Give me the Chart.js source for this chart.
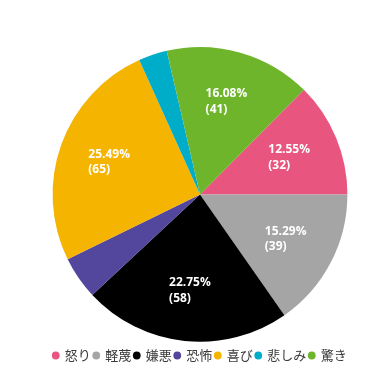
<!DOCTYPE html>
<html>
<head>
<meta charset="utf-8">
<script src="https://cdn.jsdelivr.net/npm/chart.js@4.4.1/dist/chart.umd.min.js"></script>
<style>
  html, body { margin: 0; padding: 0; background: #fff; }
  #wrap { position: relative; width: 382px; height: 378px; }
</style>
</head>
<body>
<div id="wrap"><canvas id="emotionPie"></canvas></div>
<script>
const labels = ['怒り', '軽蔑', '嫌悪', '恐怖', '喜び', '悲しみ', '驚き'];
const counts = [32, 39, 58, 12, 65, 8, 41];
const colors = ['#e8557f', '#a5a5a5', '#000000', '#52479c', '#f5b400', '#00adc9', '#6fb52c'];
// slices too thin to label
const hideLabel = ['恐怖', '悲しみ'];

const total = counts.reduce((a, b) => a + b, 0);

// draws "xx.xx%" + "(n)" inside each slice
const sliceLabels = {
    id: 'sliceLabels',
    afterDatasetsDraw(chart) {
        const ctx = chart.ctx;
        const meta = chart.getDatasetMeta(0);
        ctx.save();
        ctx.font = 'bold 12px "Open Sans", "Noto Sans", sans-serif';
        ctx.fillStyle = '#ffffff';
        ctx.textBaseline = 'middle';
        ctx.textAlign = 'left';
        meta.data.forEach((arc, i) => {
            if (hideLabel.includes(labels[i])) return;
            const { x, y, startAngle, endAngle, outerRadius } = arc.getProps(['x', 'y', 'startAngle', 'endAngle', 'outerRadius'], true);
            const mid = (startAngle + endAngle) / 2;
            const r = outerRadius * 0.655;
            const cx = x + Math.cos(mid) * r;
            const cy = y + Math.sin(mid) * r;
            const line1 = (counts[i] / total * 100).toFixed(2) + '%';
            const line2 = '(' + counts[i] + ')';
            const w = Math.max(ctx.measureText(line1).width, ctx.measureText(line2).width);
            const left = cx - w / 2;
            ctx.fillText(line1, left, cy - 7.5);
            ctx.fillText(line2, left, cy + 8);
        });
        ctx.restore();
    }
};

const startDeg = 90 - 360 * counts[0] / total;

new Chart(document.getElementById('emotionPie').getContext('2d'), {
    type: 'pie',
    data: {
        labels: labels,
        datasets: [{
            data: counts,
            backgroundColor: colors,
            borderWidth: 0
        }]
    },
    options: {
        responsive: true,
        maintainAspectRatio: false,
        animation: false,
        rotation: startDeg,
        layout: {
            padding: { left: 18, right: 0, top: 47, bottom: 6 }
        },
        plugins: {
            legend: {
                position: 'bottom',
                // empty title just pushes the items down a little
                title: { display: true, text: '', font: { size: 1 }, padding: { top: 3, bottom: 0 } },
                labels: {
                    usePointStyle: true,
                    pointStyle: 'circle',
                    boxWidth: 5,
                    boxHeight: 5.5,
                    padding: 3,
                    color: '#3a3a3a',
                    font: { size: 13, family: '"Noto Sans CJK JP", "Noto Sans", sans-serif' }
                }
            },
            tooltip: { enabled: false }
        }
    },
    plugins: [sliceLabels]
});
</script>
</body>
</html>
